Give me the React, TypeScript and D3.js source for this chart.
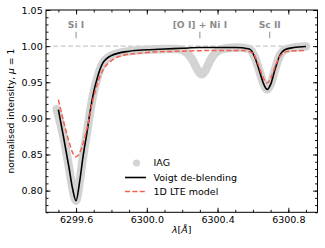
import React, { useEffect, useRef } from 'react';
import * as d3 from 'd3';

// wavelengths in Angstrom, normalised intensity
const iagWave = [6299.49, 6299.53, 6299.56, 6299.58, 6299.60, 6299.62, 6299.64, 6299.66, 6299.68, 6299.70, 6299.72, 6299.75, 6299.80, 6299.90, 6300.00, 6300.10, 6300.17, 6300.22, 6300.26, 6300.29, 6300.31, 6300.33, 6300.36, 6300.40, 6300.45, 6300.52, 6300.58, 6300.61, 6300.635, 6300.66, 6300.68, 6300.70, 6300.725, 6300.75, 6300.78, 6300.83, 6300.90];
const iagFlux = [0.913, 0.873, 0.832, 0.803, 0.786, 0.812, 0.848, 0.878, 0.910, 0.937, 0.956, 0.976, 0.987, 0.993, 0.995, 0.996, 0.996, 0.992, 0.980, 0.966, 0.961, 0.966, 0.981, 0.993, 0.997, 0.998, 0.996, 0.985, 0.967, 0.948, 0.940, 0.947, 0.968, 0.986, 0.995, 0.998, 0.9995];

const voigtWave = [6299.50, 6299.53, 6299.56, 6299.58, 6299.60, 6299.62, 6299.64, 6299.66, 6299.68, 6299.70, 6299.72, 6299.75, 6299.80, 6299.90, 6300.00, 6300.10, 6300.20, 6300.30, 6300.40, 6300.50, 6300.58, 6300.61, 6300.635, 6300.66, 6300.68, 6300.70, 6300.725, 6300.75, 6300.78, 6300.83, 6300.90];
const voigtFlux = [0.912, 0.873, 0.832, 0.803, 0.786, 0.812, 0.848, 0.878, 0.910, 0.937, 0.956, 0.976, 0.987, 0.993, 0.995, 0.996, 0.997, 0.998, 0.998, 0.998, 0.996, 0.985, 0.967, 0.948, 0.940, 0.947, 0.968, 0.986, 0.995, 0.998, 0.9995];

const lteWave = [6299.50, 6299.53, 6299.56, 6299.58, 6299.60, 6299.62, 6299.645, 6299.67, 6299.69, 6299.71, 6299.73, 6299.76, 6299.80, 6299.86, 6299.95, 6300.05, 6300.20, 6300.40, 6300.55, 6300.60, 6300.63, 6300.655, 6300.68, 6300.705, 6300.73, 6300.76, 6300.80, 6300.90];
const lteFlux = [0.926, 0.895, 0.868, 0.853, 0.847, 0.852, 0.870, 0.895, 0.920, 0.939, 0.955, 0.970, 0.980, 0.987, 0.990, 0.992, 0.993, 0.994, 0.994, 0.990, 0.975, 0.958, 0.949, 0.958, 0.975, 0.988, 0.993, 0.994];

const lineNames = ['Si I', '[O I] + Ni I', 'Sc II'];
const lineWaves = [6299.6, 6300.3, 6300.695];

const xTicks = [6299.6, 6300.0, 6300.4, 6300.8];
const yTicks = [0.80, 0.85, 0.90, 0.95, 1.00, 1.05];

const legendLabels = ['IAG', 'Voigt de-blending', '1D LTE model'];

const GREY = '#d3d3d3';
const RED = '#f5614f';

const App = () => {
    const ref = useRef(null);
    useEffect(() => {
        const svg = d3.select(ref.current);
        svg.selectAll('*').remove();
        const margin = { top: 10, right: 7.5, bottom: 35.7, left: 46 };
        const W = 325, H = 248;
        const width = W - margin.left - margin.right;
        const height = H - margin.top - margin.bottom;
        const g = svg.append('g').attr('transform', `translate(${margin.left},${margin.top})`);

        const x = d3.scaleLinear().domain([6299.43, 6300.965]).range([0, width]);
        const y = d3.scaleLinear().domain([0.77, 1.05]).range([height, 0]);

        const font = 'DejaVu Sans';
        const line = (ws, fs) => d3.line()
            .x((d) => x(ws[d]))
            .y((d) => y(fs[d]))
            .curve(d3.curveMonotoneX)(d3.range(ws.length));

        // continuum reference
        g.append('line')
            .attr('x1', x(6299.47)).attr('x2', x(6300.905))
            .attr('y1', y(1)).attr('y2', y(1))
            .attr('stroke', '#c8c8c8').attr('stroke-width', 1.1)
            .attr('stroke-dasharray', '5,2.5');

        g.append('path').attr('d', line(iagWave, iagFlux))
            .attr('fill', 'none').attr('stroke', GREY).attr('stroke-width', 8.5)
            .attr('stroke-linecap', 'round').attr('stroke-linejoin', 'round');
        g.append('path').attr('d', line(voigtWave, voigtFlux))
            .attr('fill', 'none').attr('stroke', '#000').attr('stroke-width', 1.6);
        g.append('path').attr('d', line(lteWave, lteFlux))
            .attr('fill', 'none').attr('stroke', RED).attr('stroke-width', 1.5)
            .attr('stroke-dasharray', '5,2.4');

        // line identifications
        lineNames.forEach((name, i) => {
            const lx = x(lineWaves[i]);
            g.append('text').attr('x', lx).attr('y', 18.3)
                .attr('text-anchor', 'middle').attr('font-family', font)
                .attr('font-weight', 'bold').attr('font-size', 9.2)
                .attr('fill', '#8c8c8c').text(name);
            g.append('line').attr('x1', lx).attr('x2', lx).attr('y1', 21.7).attr('y2', 28.3)
                .attr('stroke', '#8c8c8c').attr('stroke-width', 1);
        });

        // axes, ticks inward on all sides
        const styleAxis = (sel) => {
            sel.select('.domain').remove();
            sel.selectAll('line').attr('stroke', '#000').attr('stroke-width', 0.9);
            sel.selectAll('text').attr('font-family', font).attr('font-size', 9.5).attr('fill', '#000');
        };
        const xMinor = d3.range(6299.5, 6300.95, 0.1);
        const yMinor = d3.range(0.77, 1.0501, 0.01);

        g.append('g').attr('transform', `translate(0,${height})`)
            .call(d3.axisBottom(x).tickValues(xTicks).tickSize(-4.5).tickPadding(4.4).tickFormat(d3.format('.1f')))
            .call(styleAxis);
        g.append('g').attr('transform', `translate(0,${height})`)
            .call(d3.axisBottom(x).tickValues(xMinor).tickSize(-2.5).tickFormat(() => ''))
            .call(styleAxis);
        g.append('g')
            .call(d3.axisTop(x).tickValues(xTicks).tickSize(-4.5).tickFormat(() => ''))
            .call(styleAxis);
        g.append('g')
            .call(d3.axisTop(x).tickValues(xMinor).tickSize(-2.5).tickFormat(() => ''))
            .call(styleAxis);
        g.append('g')
            .call(d3.axisLeft(y).tickValues(yTicks).tickSize(-4.5).tickPadding(3.3).tickFormat(d3.format('.2f')))
            .call(styleAxis);
        g.append('g')
            .call(d3.axisLeft(y).tickValues(yMinor).tickSize(-2.5).tickFormat(() => ''))
            .call(styleAxis);
        g.append('g').attr('transform', `translate(${width},0)`)
            .call(d3.axisRight(y).tickValues(yTicks).tickSize(-4.5).tickFormat(() => ''))
            .call(styleAxis);
        g.append('g').attr('transform', `translate(${width},0)`)
            .call(d3.axisRight(y).tickValues(yMinor).tickSize(-2.5).tickFormat(() => ''))
            .call(styleAxis);

        g.append('rect').attr('width', width).attr('height', height)
            .attr('fill', 'none').attr('stroke', '#000').attr('stroke-width', 1);

        // axis labels
        const xl = svg.append('text').attr('x', margin.left + width / 2).attr('y', 232.5)
            .attr('text-anchor', 'middle').attr('font-family', font).attr('font-size', 9.5);
        xl.append('tspan').attr('font-style', 'italic').text('λ');
        xl.append('tspan').text('[');
        xl.append('tspan').attr('font-style', 'italic').text('Å');
        xl.append('tspan').text(']');

        const yl = svg.append('text')
            .attr('transform', `translate(13.5,${margin.top + height / 2}) rotate(-90)`)
            .attr('text-anchor', 'middle').attr('font-family', font).attr('font-size', 9.2);
        yl.append('tspan').text('normalised intensity, ');
        yl.append('tspan').attr('font-style', 'italic').text('μ');
        yl.append('tspan').text(' = 1');

        // legend
        const lg = svg.append('g').attr('transform', 'translate(125,163)');
        lg.append('circle').attr('cx', 11.5).attr('cy', 0).attr('r', 3.6).attr('fill', GREY);
        lg.append('line').attr('x1', 0).attr('x2', 21).attr('y1', 14.5).attr('y2', 14.5)
            .attr('stroke', '#000').attr('stroke-width', 1.6);
        lg.append('line').attr('x1', 0).attr('x2', 21).attr('y1', 28.5).attr('y2', 28.5)
            .attr('stroke', RED).attr('stroke-width', 1.5).attr('stroke-dasharray', '5,2.4');
        legendLabels.forEach((t, i) => {
            lg.append('text').attr('x', 28.5).attr('y', i * 14.2 + 3.4)
                .attr('font-family', font).attr('font-size', 9.5).text(t);
        });
    }, []);

    return (
        <svg ref={ref} width={325} height={248} style={{ position: 'absolute', left: 0, top: 0 }} />
    );
};

export default App;
